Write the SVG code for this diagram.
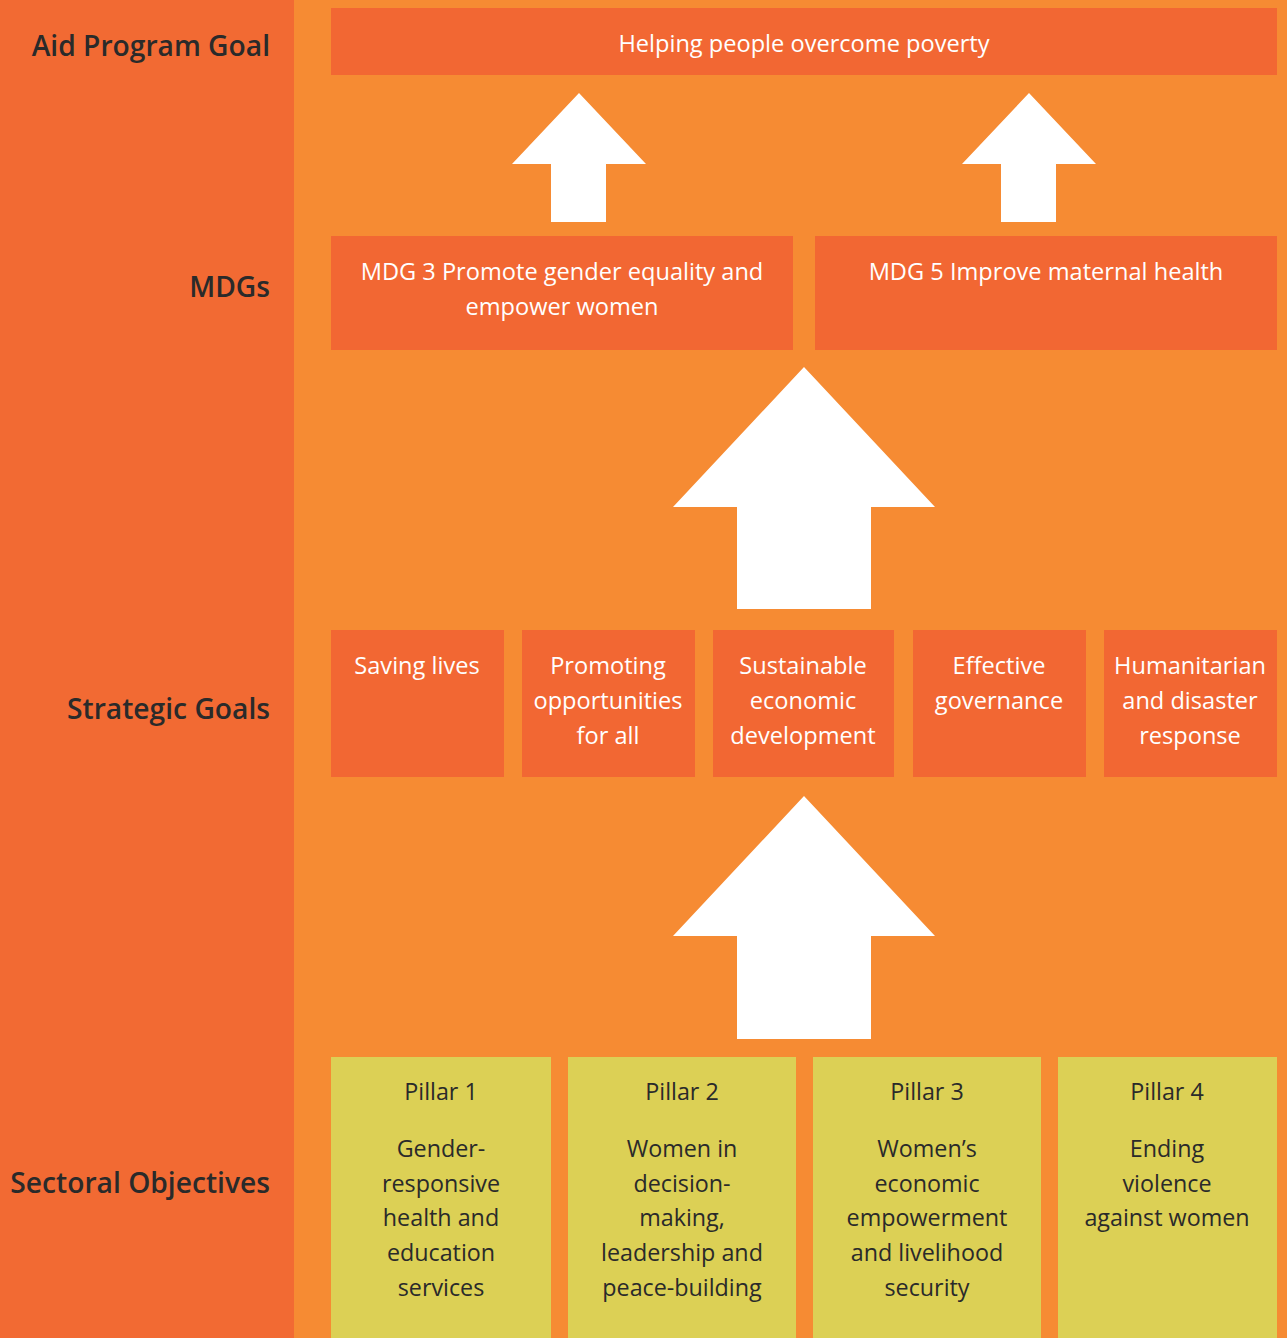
<svg xmlns="http://www.w3.org/2000/svg" width="1287" height="1338" viewBox="0 0 1287 1338">
<style>
.lbl{font-family:"Open Sans","Noto Sans",sans-serif;font-size:28.2px;font-weight:600;fill:#2a2a2a;text-anchor:end}
.box{fill:#F26733}
.pil{fill:#DCD055}
.wt{font-family:"Open Sans","Noto Sans",sans-serif;font-size:23.6px;fill:#ffffff;text-anchor:middle}
.dt{font-family:"Open Sans","Noto Sans",sans-serif;font-size:23.3px;fill:#2a2a2a;text-anchor:middle}
.arr{fill:#ffffff}
</style>
<rect x="0" y="0" width="1287" height="1338" fill="#F68B33"/>
<rect x="0" y="0" width="294" height="1338" fill="#F26A33"/>
<g id="labels">
<text class="lbl" x="270" y="56">Aid Program Goal</text>
<text class="lbl" x="270" y="297">MDGs</text>
<text class="lbl" x="270" y="719">Strategic Goals</text>
<text class="lbl" x="270" y="1193">Sectoral Objectives</text>
</g>
<g id="goal">
<rect class="box" x="331" y="8" width="946" height="67"/>
<text class="wt" x="804" y="52">Helping people overcome poverty</text>
</g>
<g id="mdg3">
<rect class="box" x="331" y="236" width="462" height="114"/>
<text class="wt" x="562" y="280">MDG 3 Promote gender equality and</text>
<text class="wt" x="562" y="315">empower women</text>
</g>
<g id="mdg5">
<rect class="box" x="815" y="236" width="462" height="114"/>
<text class="wt" x="1046" y="280">MDG 5 Improve maternal health</text>
</g>
<g id="sg1">
<rect class="box" x="331" y="630" width="173" height="147"/>
<text class="wt" x="417" y="674">Saving lives</text>
</g>
<g id="sg2">
<rect class="box" x="522" y="630" width="173" height="147"/>
<text class="wt" x="608" y="674">Promoting</text>
<text class="wt" x="608" y="709">opportunities</text>
<text class="wt" x="608" y="744">for all</text>
</g>
<g id="sg3">
<rect class="box" x="713" y="630" width="181" height="147"/>
<text class="wt" x="803" y="674">Sustainable</text>
<text class="wt" x="803" y="709">economic</text>
<text class="wt" x="803" y="744">development</text>
</g>
<g id="sg4">
<rect class="box" x="913" y="630" width="173" height="147"/>
<text class="wt" x="999" y="674">Effective</text>
<text class="wt" x="999" y="709">governance</text>
</g>
<g id="sg5">
<rect class="box" x="1104" y="630" width="173" height="147"/>
<text class="wt" x="1190" y="674">Humanitarian</text>
<text class="wt" x="1190" y="709">and disaster</text>
<text class="wt" x="1190" y="744">response</text>
</g>
<g id="p1">
<rect class="pil" x="331" y="1057" width="220" height="281"/>
<text class="dt" x="441" y="1100">Pillar 1</text>
<text class="dt" x="441" y="1157">Gender-</text>
<text class="dt" x="441" y="1192">responsive</text>
<text class="dt" x="441" y="1226">health and</text>
<text class="dt" x="441" y="1261">education</text>
<text class="dt" x="441" y="1296">services</text>
</g>
<g id="p2">
<rect class="pil" x="568" y="1057" width="228" height="281"/>
<text class="dt" x="682" y="1100">Pillar 2</text>
<text class="dt" x="682" y="1157">Women in</text>
<text class="dt" x="682" y="1192">decision-</text>
<text class="dt" x="682" y="1226">making,</text>
<text class="dt" x="682" y="1261">leadership and</text>
<text class="dt" x="682" y="1296">peace-building</text>
</g>
<g id="p3">
<rect class="pil" x="813" y="1057" width="228" height="281"/>
<text class="dt" x="927" y="1100">Pillar 3</text>
<text class="dt" x="927" y="1157">Women’s</text>
<text class="dt" x="927" y="1192">economic</text>
<text class="dt" x="927" y="1226">empowerment</text>
<text class="dt" x="927" y="1261">and livelihood</text>
<text class="dt" x="927" y="1296">security</text>
</g>
<g id="p4">
<rect class="pil" x="1058" y="1057" width="219" height="281"/>
<text class="dt" x="1167" y="1100">Pillar 4</text>
<text class="dt" x="1167" y="1157">Ending</text>
<text class="dt" x="1167" y="1192">violence</text>
<text class="dt" x="1167" y="1226">against women</text>
</g>
<g id="connectors">
<polygon class="arr" points="579,93 646,164 606,164 606,222 551,222 551,164 512,164"/>
<polygon class="arr" points="1029,93 1096,164 1056,164 1056,222 1001,222 1001,164 962,164"/>
<polygon class="arr" points="804,367 935,507 871,507 871,609 737,609 737,507 673,507"/>
<polygon class="arr" points="804,796 935,936 871,936 871,1039 737,1039 737,936 673,936"/>
</g>
</svg>
